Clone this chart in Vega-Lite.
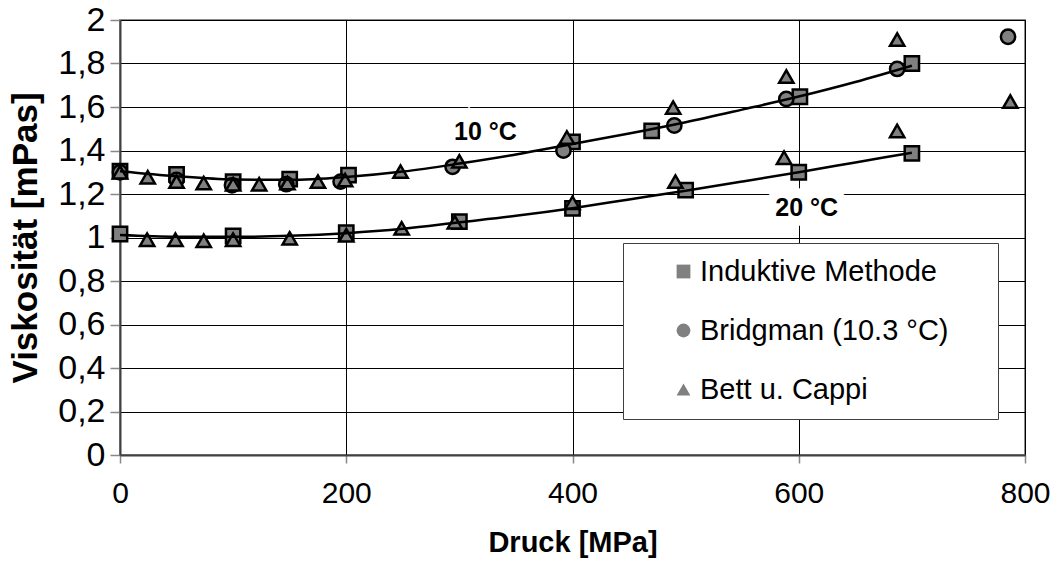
{
  "$schema": "https://vega.github.io/schema/vega-lite/v6.json",
  "width": 905,
  "height": 435,
  "autosize": {"type": "none"},
  "padding": {"left": 120, "top": 20, "right": 28, "bottom": 110},
  "background": "white",
  "config": {
    "font": "Liberation Sans",
    "view": {"stroke": "#8c8c8c", "strokeWidth": 2},
    "axis": {
      "labelFont": "Liberation Sans",
      "labelColor": "black",
      "titleFont": "Liberation Sans",
      "titleFontWeight": "bold",
      "titleColor": "black",
      "gridColor": "black",
      "gridWidth": 1,
      "gridOpacity": 1,
      "domainColor": "#404040",
      "domainWidth": 2,
      "tickColor": "#888888",
      "tickWidth": 1.5,
      "labelFlush": false,
      "labelOverlap": false
    }
  },
  "datasets": {
    "points": [
      {"series": "Induktive Methode", "p": 0, "v": 1.305},
      {"series": "Induktive Methode", "p": 50, "v": 1.29},
      {"series": "Induktive Methode", "p": 100, "v": 1.257},
      {"series": "Induktive Methode", "p": 150, "v": 1.268},
      {"series": "Induktive Methode", "p": 202, "v": 1.287},
      {"series": "Induktive Methode", "p": 400, "v": 1.44},
      {"series": "Induktive Methode", "p": 470, "v": 1.49},
      {"series": "Induktive Methode", "p": 601, "v": 1.647},
      {"series": "Induktive Methode", "p": 700, "v": 1.8},
      {"series": "Induktive Methode", "p": 0, "v": 1.016},
      {"series": "Induktive Methode", "p": 100, "v": 1.007},
      {"series": "Induktive Methode", "p": 200, "v": 1.022},
      {"series": "Induktive Methode", "p": 300, "v": 1.073},
      {"series": "Induktive Methode", "p": 400, "v": 1.134},
      {"series": "Induktive Methode", "p": 500, "v": 1.218},
      {"series": "Induktive Methode", "p": 600, "v": 1.3},
      {"series": "Induktive Methode", "p": 700, "v": 1.387},
      {"series": "Bridgman (10.3 °C)", "p": 0, "v": 1.3},
      {"series": "Bridgman (10.3 °C)", "p": 50, "v": 1.265},
      {"series": "Bridgman (10.3 °C)", "p": 99, "v": 1.24},
      {"series": "Bridgman (10.3 °C)", "p": 147, "v": 1.245},
      {"series": "Bridgman (10.3 °C)", "p": 195, "v": 1.257},
      {"series": "Bridgman (10.3 °C)", "p": 294, "v": 1.325},
      {"series": "Bridgman (10.3 °C)", "p": 392, "v": 1.4},
      {"series": "Bridgman (10.3 °C)", "p": 490, "v": 1.515},
      {"series": "Bridgman (10.3 °C)", "p": 589, "v": 1.637},
      {"series": "Bridgman (10.3 °C)", "p": 687, "v": 1.775},
      {"series": "Bridgman (10.3 °C)", "p": 785, "v": 1.923},
      {"series": "Bett u. Cappi", "p": 0, "v": 1.3},
      {"series": "Bett u. Cappi", "p": 24.5, "v": 1.277},
      {"series": "Bett u. Cappi", "p": 50, "v": 1.257},
      {"series": "Bett u. Cappi", "p": 74, "v": 1.25},
      {"series": "Bett u. Cappi", "p": 100, "v": 1.245},
      {"series": "Bett u. Cappi", "p": 123, "v": 1.245},
      {"series": "Bett u. Cappi", "p": 148, "v": 1.25},
      {"series": "Bett u. Cappi", "p": 175, "v": 1.257},
      {"series": "Bett u. Cappi", "p": 199, "v": 1.264},
      {"series": "Bett u. Cappi", "p": 248, "v": 1.303},
      {"series": "Bett u. Cappi", "p": 300, "v": 1.35},
      {"series": "Bett u. Cappi", "p": 395, "v": 1.46},
      {"series": "Bett u. Cappi", "p": 489, "v": 1.597},
      {"series": "Bett u. Cappi", "p": 589, "v": 1.74},
      {"series": "Bett u. Cappi", "p": 687, "v": 1.91},
      {"series": "Bett u. Cappi", "p": 787, "v": 1.625},
      {"series": "Bett u. Cappi", "p": 24, "v": 0.99},
      {"series": "Bett u. Cappi", "p": 49, "v": 0.99},
      {"series": "Bett u. Cappi", "p": 74, "v": 0.985},
      {"series": "Bett u. Cappi", "p": 100, "v": 0.99},
      {"series": "Bett u. Cappi", "p": 150, "v": 0.996},
      {"series": "Bett u. Cappi", "p": 200, "v": 1.01},
      {"series": "Bett u. Cappi", "p": 249, "v": 1.042},
      {"series": "Bett u. Cappi", "p": 296, "v": 1.07},
      {"series": "Bett u. Cappi", "p": 400, "v": 1.16},
      {"series": "Bett u. Cappi", "p": 491, "v": 1.257},
      {"series": "Bett u. Cappi", "p": 587, "v": 1.367},
      {"series": "Bett u. Cappi", "p": 687, "v": 1.49}
    ],
    "curves": [
      {"curve": "10 °C", "p": 0, "v": 1.305},
      {"curve": "10 °C", "p": 50, "v": 1.282},
      {"curve": "10 °C", "p": 100, "v": 1.267},
      {"curve": "10 °C", "p": 150, "v": 1.265},
      {"curve": "10 °C", "p": 200, "v": 1.278},
      {"curve": "10 °C", "p": 250, "v": 1.303},
      {"curve": "10 °C", "p": 300, "v": 1.34},
      {"curve": "10 °C", "p": 350, "v": 1.382},
      {"curve": "10 °C", "p": 400, "v": 1.43},
      {"curve": "10 °C", "p": 450, "v": 1.478},
      {"curve": "10 °C", "p": 500, "v": 1.53},
      {"curve": "10 °C", "p": 550, "v": 1.588},
      {"curve": "10 °C", "p": 600, "v": 1.648},
      {"curve": "10 °C", "p": 650, "v": 1.715},
      {"curve": "10 °C", "p": 700, "v": 1.79},
      {"curve": "20 °C", "p": 0, "v": 1.012},
      {"curve": "20 °C", "p": 50, "v": 1.004},
      {"curve": "20 °C", "p": 100, "v": 1.003},
      {"curve": "20 °C", "p": 150, "v": 1.008},
      {"curve": "20 °C", "p": 200, "v": 1.02},
      {"curve": "20 °C", "p": 250, "v": 1.04},
      {"curve": "20 °C", "p": 300, "v": 1.07},
      {"curve": "20 °C", "p": 350, "v": 1.1},
      {"curve": "20 °C", "p": 400, "v": 1.135},
      {"curve": "20 °C", "p": 450, "v": 1.175},
      {"curve": "20 °C", "p": 500, "v": 1.215},
      {"curve": "20 °C", "p": 550, "v": 1.257},
      {"curve": "20 °C", "p": 600, "v": 1.3},
      {"curve": "20 °C", "p": 650, "v": 1.345},
      {"curve": "20 °C", "p": 700, "v": 1.39}
    ],
    "labels": [
      {"label": "10 °C", "p": 323, "v": 1.485},
      {"label": "20 °C", "p": 607, "v": 1.136}
    ]
  },
  "layer": [
    {
      "data": {"name": "points"},
      "mark": {"type": "point", "filled": false, "color": "black", "fill": "#808080", "stroke": "black", "strokeWidth": 2.5, "opacity": 1, "fillOpacity": 1, "strokeOpacity": 1, "size": 205},
      "encoding": {
        "x": {
          "field": "p", "type": "quantitative",
          "scale": {"domain": [0, 800], "nice": false},
          "axis": {"title": "Druck [MPa]", "values": [0, 200, 400, 600, 800], "tickSize": 8, "labelFontSize": 30, "labelPadding": 15, "titleFontSize": 29, "titlePadding": 20}
        },
        "y": {
          "field": "v", "type": "quantitative",
          "scale": {"domain": [0, 2], "nice": false, "zero": true},
          "axis": {"title": "Viskosität [mPas]", "values": [0, 0.2, 0.4, 0.6, 0.8, 1, 1.2, 1.4, 1.6, 1.8, 2], "tickSize": 10, "labelFontSize": 34, "labelPadding": 5, "titleFontSize": 35, "titlePadding": 14, "labelExpr": "replace(format(datum.value, '.1~f'), '.', ',')"}
        },
        "shape": {
          "field": "series", "type": "nominal",
          "scale": {"domain": ["Induktive Methode", "Bridgman (10.3 °C)", "Bett u. Cappi"], "range": ["square", "circle", "triangle-up"]},
          "legend": {
            "orient": "none", "legendX": 503, "legendY": 223,
            "title": ".", "titleOrient": "right", "titleFontSize": 2, "titleOpacity": 0, "titlePadding": 34, "titleColor": "white",
            "fillColor": "white", "strokeColor": "#404040",
            "padding": 14, "symbolOffset": 32, "labelOffset": 2,
            "labelFont": "Liberation Sans", "labelFontSize": 29, "labelColor": "black", "labelLimit": 0,
            "rowPadding": 29,
            "symbolSize": 190, "symbolStrokeWidth": 2.5, "symbolOpacity": 1,
            "symbolFillColor": "#808080", "symbolStrokeColor": "black"
          }
        }
      }
    },
    {
      "data": {"name": "curves"},
      "mark": {"type": "line", "color": "black", "strokeWidth": 2.5, "interpolate": "monotone"},
      "encoding": {
        "x": {"field": "p", "type": "quantitative"},
        "y": {"field": "v", "type": "quantitative"},
        "detail": {"field": "curve", "type": "nominal"}
      }
    },
    {
      "data": {"name": "labels"},
      "mark": {"type": "text", "font": "Liberation Sans", "fontSize": 25, "fontWeight": "bold", "fill": "white", "stroke": "white", "strokeWidth": 20, "strokeJoin": "miter"},
      "encoding": {
        "x": {"field": "p", "type": "quantitative"},
        "y": {"field": "v", "type": "quantitative"},
        "text": {"field": "label"}
      }
    },
    {
      "data": {"name": "labels"},
      "mark": {"type": "text", "font": "Liberation Sans", "fontSize": 25, "fontWeight": "bold", "color": "black"},
      "encoding": {
        "x": {"field": "p", "type": "quantitative"},
        "y": {"field": "v", "type": "quantitative"},
        "text": {"field": "label"}
      }
    }
  ]
}
